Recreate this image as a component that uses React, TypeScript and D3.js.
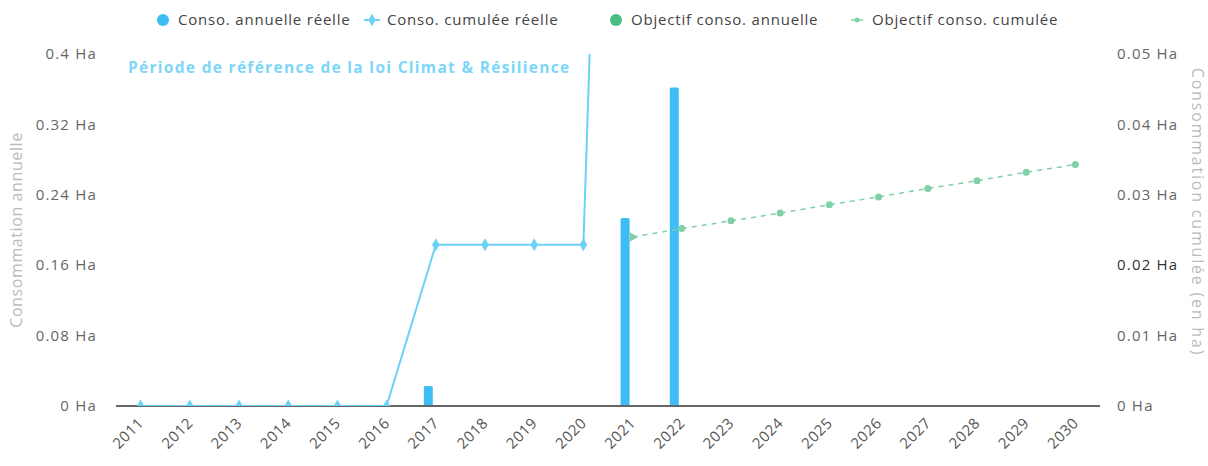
import React from 'react';
import * as d3 from 'd3';

const years = d3.range(2011, 2031).map(String);

// annual real consumption (ha), left axis
const annualReal: (number | null)[] = [0, 0, 0, 0, 0, 0, 0.0228, 0, 0, 0, 0.2135, 0.362, null, null, null, null, null, null, null, null];
// cumulated real consumption (ha), right axis
const cumulReal: (number | null)[] = [0, 0, 0, 0, 0, 0, 0.0229, 0.0229, 0.0229, 0.0229, 0.2364, 0.5984, null, null, null, null, null, null, null, null];
// annual target (ha), left axis
const annualTarget: (number | null)[] = [null, null, null, null, null, null, null, null, null, null, 0.00115, 0.00115, 0.00115, 0.00115, 0.00115, 0.00115, 0.00115, 0.00115, 0.00115, 0.00115];
// cumulated target (ha), right axis
const cumulTarget: (number | null)[] = [null, null, null, null, null, null, null, null, null, null, 0.024, 0.0252, 0.0263, 0.0274, 0.0286, 0.0297, 0.0309, 0.032, 0.0332, 0.0343];

const leftTicks = [0, 0.08, 0.16, 0.24, 0.32, 0.4];
const rightTicks = [0, 0.01, 0.02, 0.03, 0.04, 0.05];

const W = 1208;
const H = 466;
const m = { left: 116, right: 108, top: 54, bottom: 60 };

const BLUE = '#3dbcf6';
const LIGHT_BLUE = '#6dd2f8';
const GREEN = '#4cbd80';
const GREEN_LINE = '#7fd0a6';
const FONT = '"Open Sans", sans-serif';

export default function App() {
  const x = d3.scaleBand().domain(years).range([m.left, W - m.right]);
  const yL = d3.scaleLinear().domain([0, 0.4]).range([H - m.bottom, m.top]);
  const yR = d3.scaleLinear().domain([0, 0.05]).range([H - m.bottom, m.top]);
  const cx = (y: string) => (x(y) ?? 0) + x.bandwidth() / 2;
  const barW = 9;
  const off = 7.5;

  const line = d3
    .line<[string, number | null]>()
    .defined((d) => d[1] !== null)
    .x((d) => cx(d[0]))
    .y((d) => yR(d[1] as number));

  const cumRealPts = years.map((y, i) => [y, cumulReal[i]] as [string, number | null]);
  const cumTgtPts = years.map((y, i) => [y, cumulTarget[i]] as [string, number | null]);

  const legend = [
    { label: 'Conso. annuelle réelle', x: 163, kind: 'circle', color: BLUE },
    { label: 'Conso. cumulée réelle', x: 372, kind: 'diamond', color: LIGHT_BLUE },
    { label: 'Objectif conso. annuelle', x: 616, kind: 'circle', color: GREEN },
    { label: 'Objectif conso. cumulée', x: 857, kind: 'plus', color: GREEN_LINE },
  ];

  const base = yL(0);

  return (
    <svg width={W} height={H} style={{ position: 'absolute', left: 0, top: 0, background: '#fff' }} fontFamily={FONT}>
      <defs>
        <clipPath id="plot">
          <rect x={m.left} y={m.top} width={W - m.left - m.right} height={H - m.top - m.bottom} />
        </clipPath>
      </defs>

      {/* legend */}
      {legend.map((l) => (
        <g key={l.label} transform={`translate(${l.x},20)`}>
          {l.kind === 'circle' && <circle r={6} fill={l.color} />}
          {l.kind === 'diamond' && (
            <g>
              <line x1={-8} x2={8} stroke={l.color} strokeWidth={2} />
              <path d={d3.symbol(d3.symbolDiamond, 45)() ?? ''} fill={l.color} />
            </g>
          )}
          {l.kind === 'plus' && (
            <g>
              <line x1={-6} x2={6} stroke={l.color} strokeWidth={1.5} />
              <circle r={2.5} fill={l.color} />
            </g>
          )}
          <text x={15} dy="0.35em" fontSize={15} letterSpacing={0.8} fill="#444">{l.label}</text>
        </g>
      ))}

      {/* reference period label */}
      <text x={128} y={73} fontSize={15.5} fontWeight="bold" letterSpacing={1.3} fill="#7dd6f7">
        Période de référence de la loi Climat &amp; Résilience
      </text>

      {/* bars */}
      <g>
        {years.map((y, i) => {
          const v = annualTarget[i];
          if (v === null || v <= 0) return null;
          return (
            <rect key={'t' + y} x={cx(y) + off - barW / 2} y={yL(v)} width={barW} height={base - yL(v)} fill={GREEN} />
          );
        })}
        {years.map((y, i) => {
          const v = annualReal[i];
          if (v === null || v <= 0) return null;
          return (
            <rect key={'r' + y} x={cx(y) - off - barW / 2} y={yL(v)} width={barW} height={base - yL(v)} fill={BLUE} rx={1.5} />
          );
        })}
      </g>

      {/* x axis line */}
      <line x1={m.left} x2={W - m.right} y1={base} y2={base} stroke="#666" strokeWidth={2.2} />

      {/* lines */}
      <g clipPath="url(#plot)">
        <path d={line(cumTgtPts) ?? ''} fill="none" stroke={GREEN_LINE} strokeWidth={1.5} strokeDasharray="5,5" />
        {cumTgtPts.map((d, i) =>
          d[1] === null ? null : i === 10 ? (
            <path key={'ct' + i} transform={`translate(${cx(d[0])},${yR(d[1])}) rotate(90)`} d={d3.symbol(d3.symbolTriangle, 40)() ?? ''} fill={GREEN_LINE} />
          ) : (
            <circle key={'ct' + i} cx={cx(d[0])} cy={yR(d[1])} r={3.5} fill={GREEN_LINE} />
          )
        )}
        <path d={line(cumRealPts) ?? ''} fill="none" stroke={LIGHT_BLUE} strokeWidth={2} />
        {cumRealPts.map((d, i) =>
          d[1] === null ? null : (
            <path key={'cr' + i} transform={`translate(${cx(d[0])},${yR(d[1])})`} d={d3.symbol(d3.symbolDiamond, 50)() ?? ''} fill={LIGHT_BLUE} />
          )
        )}
      </g>

      {/* left axis */}
      {leftTicks.map((t) => (
        <text key={'l' + t} x={97} y={yL(t)} dy="0.35em" textAnchor="end" fontSize={15} letterSpacing={1.2} fill="#666">
          {`${t} Ha`}
        </text>
      ))}
      <text transform={`translate(22,230) rotate(-90)`} textAnchor="middle" fontSize={16} letterSpacing={0.6} fill="#bbb">
        Consommation annuelle
      </text>

      {/* right axis */}
      {rightTicks.map((t) => (
        <text key={'r' + t} x={1117} y={yR(t)} dy="0.35em" textAnchor="start" fontSize={15} letterSpacing={1.2} fill={t === 0.02 ? '#333' : '#666'}>
          {`${t} Ha`}
        </text>
      ))}
      <text transform={`translate(1192,212) rotate(90)`} textAnchor="middle" fontSize={16} letterSpacing={1.8} fill="#bbb">
        Consommation cumulée (en ha)
      </text>

      {/* x labels */}
      {years.map((y) => (
        <text key={'x' + y} transform={`translate(${cx(y) + 4},${base + 18}) rotate(-45)`} textAnchor="end" fontSize={15} letterSpacing={0.5} fill="#555">
          {y}
        </text>
      ))}
    </svg>
  );
}
